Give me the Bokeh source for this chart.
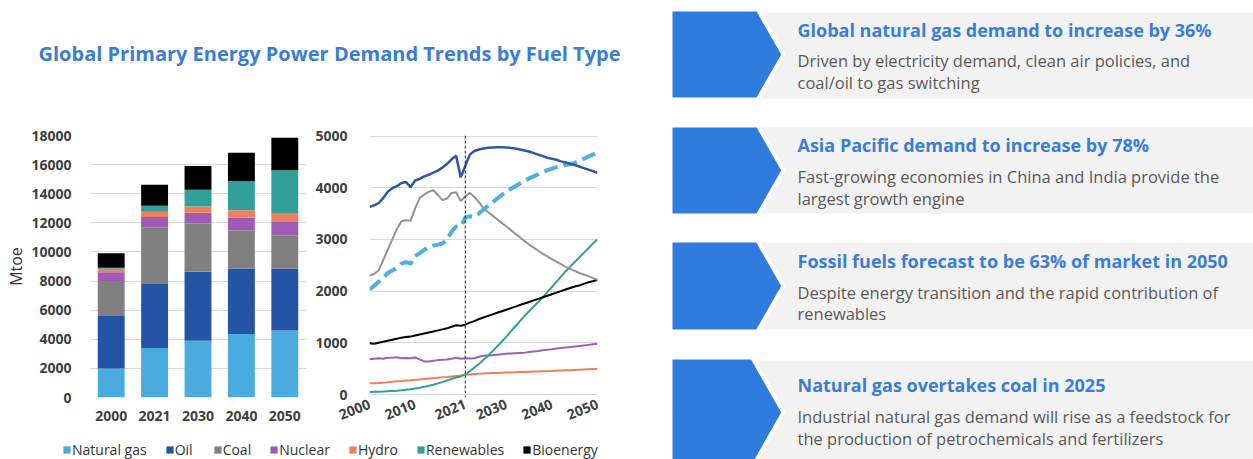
from bokeh.plotting import figure
from bokeh.layouts import row, column
from bokeh.models import (ColumnDataSource, Range1d, FactorRange, FixedTicker, Span,
                          Legend, LegendItem)
from bokeh.core.properties import value
from bokeh.embed import file_html
from bokeh.resources import INLINE

# ---------------- data ----------------
TITLE = "Global Primary Energy Power Demand Trends by Fuel Type"
FUELS = ["Natural gas", "Oil", "Coal", "Nuclear", "Hydro", "Renewables", "Bioenergy"]
BAR_YEARS = ["2000", "2021", "2030", "2040", "2050"]
natural_gas_bar = [2000, 3400, 3900, 4370, 4600]
oil_bar = [3600, 4400, 4750, 4490, 4260]
coal_bar = [2400, 3900, 3300, 2630, 2280]
nuclear_bar = [600, 700, 750, 870, 920]
hydro_bar = [250, 370, 430, 500, 570]
renewables_bar = [60, 400, 1150, 1990, 2980]
bioenergy_bar = [1000, 1450, 1620, 1970, 2240]
BAR_TICKS = [0, 2000, 4000, 6000, 8000, 10000, 12000, 14000, 16000, 18000]

years = list(range(2000, 2051))
oil_line = [3630, 3660, 3700, 3800, 3920, 3990, 4030, 4090, 4110, 4010,
            4140, 4170, 4220, 4250, 4290, 4330, 4390, 4460, 4550, 4620,
            4200, 4420, 4640, 4710, 4740, 4760, 4775, 4780, 4785, 4785,
            4780, 4770, 4760, 4740, 4720, 4700, 4670, 4640, 4610, 4580,
            4560, 4540, 4510, 4490, 4460, 4440, 4410, 4380, 4350, 4320, 4290]
gas_line = [2030, 2100, 2180, 2260, 2350, 2400, 2450, 2530, 2560, 2530,
            2680, 2730, 2800, 2850, 2880, 2900, 2920, 3000, 3150, 3250,
            3250, 3420, 3450, 3440, 3500, 3580, 3650, 3720, 3790, 3860,
            3920, 3980, 4030, 4080, 4130, 4180, 4220, 4260, 4300, 4340,
            4370, 4400, 4420, 4440, 4460, 4480, 4520, 4560, 4600, 4640, 4680]
coal_line = [2300, 2330, 2400, 2600, 2800, 3000, 3200, 3350, 3370, 3360,
             3600, 3800, 3870, 3920, 3950, 3860, 3760, 3790, 3900, 3910,
             3740, 3830, 3900, 3820, 3720, 3600, 3530, 3460, 3390, 3320,
             3250, 3180, 3110, 3040, 2970, 2900, 2840, 2780, 2720, 2670,
             2620, 2570, 2520, 2470, 2430, 2390, 2350, 2320, 2290, 2250, 2220]
bio_line = [990, 980, 1000, 1020, 1040, 1060, 1080, 1100, 1110, 1120,
            1140, 1160, 1180, 1200, 1220, 1240, 1260, 1280, 1310, 1340,
            1330, 1350, 1390, 1420, 1460, 1490, 1520, 1550, 1580, 1610,
            1640, 1670, 1700, 1730, 1760, 1790, 1820, 1850, 1880, 1910,
            1940, 1970, 2000, 2030, 2060, 2090, 2110, 2140, 2170, 2190, 2220]
ren_line = [50, 52, 55, 58, 62, 68, 74, 82, 92, 102,
            115, 130, 148, 168, 190, 215, 240, 270, 300, 330,
            350, 390, 450, 520, 590, 670, 750, 840, 930, 1020,
            1120, 1220, 1320, 1420, 1520, 1610, 1700, 1790, 1880, 1980,
            2080, 2180, 2280, 2380, 2470, 2560, 2650, 2740, 2830, 2920, 3000]
nuc_line = [680, 690, 700, 690, 710, 710, 720, 700, 705, 700,
            715, 680, 640, 640, 655, 665, 670, 675, 690, 710,
            690, 700, 695, 700, 730, 750, 755, 760, 770, 780,
            790, 795, 800, 805, 810, 820, 830, 840, 855, 865,
            875, 890, 900, 910, 920, 930, 940, 950, 960, 970, 980]
hydro_line = [220, 220, 222, 225, 235, 245, 255, 262, 270, 275,
              285, 292, 300, 310, 318, 325, 332, 340, 350, 360,
              368, 380, 388, 395, 400, 405, 410, 414, 418, 422,
              425, 428, 431, 434, 437, 440, 443, 446, 449, 452,
              455, 459, 463, 467, 471, 475, 479, 483, 487, 491, 495]
LINE_XTICKS = [2000, 2010, 2021, 2030, 2040, 2050]
LINE_YTICKS = [0, 1000, 2000, 3000, 4000, 5000]
BASE_YEAR = 2021

HEADINGS = ["Global natural gas demand to increase by 36%",
            "Asia Pacific demand to increase by 78%",
            "Fossil fuels forecast to be 63% of market in 2050",
            "Natural gas overtakes coal in 2025"]
BODY1 = ["Driven by electricity demand, clean air policies, and",
         "Fast-growing economies in China and India provide the",
         "Despite energy transition and the rapid contribution of",
         "Industrial natural gas demand will rise as a feedstock for"]
BODY2 = ["coal/oil to gas switching",
         "largest growth engine",
         "renewables",
         "the production of petrochemicals and fertilizers"]

# ---------------- style ----------------
FONT = "Open Sans"
BLUE_TXT = "#3A7DD7"
BAR_COLORS = ["#4AABDF", "#2455A4", "#808080", "#A05CB5", "#EF7E5B", "#30A099", "#000000"]
TICK_COLOR = "#404040"
GRID = "#D9D9D9"


def style_axes(p):
    for ax in p.axis:
        ax.axis_line_color = None
        ax.major_tick_line_color = None
        ax.minor_tick_line_color = None
        ax.major_label_text_font = FONT
        ax.major_label_text_font_style = "bold"
        ax.major_label_text_font_size = "14px"
        ax.major_label_text_color = TICK_COLOR


# ---------------- title ----------------
tf = figure(width=650, height=110, x_range=Range1d(0, 650), y_range=Range1d(110, 0),
            x_axis_type=None, y_axis_type=None, output_backend="svg",
            toolbar_location=None, min_border=0)
tf.outline_line_color = None
tf.grid.visible = False
tf.text(x=[38], y=[53], text=[TITLE], text_font=value(FONT), text_font_style="bold",
        text_font_size="20px", text_color=BLUE_TXT, text_baseline="middle")

# ---------------- stacked bars ----------------
CH_H = 318
TOP_B, BOT_B = 25, 31
bar_src = ColumnDataSource(dict(year=BAR_YEARS,
                                **{FUELS[0]: natural_gas_bar, FUELS[1]: oil_bar,
                                   FUELS[2]: coal_bar, FUELS[3]: nuclear_bar,
                                   FUELS[4]: hydro_bar, FUELS[5]: renewables_bar,
                                   FUELS[6]: bioenergy_bar}))
bf = figure(width=310, height=CH_H, x_range=FactorRange(factors=BAR_YEARS),
            y_range=Range1d(0, 18000), output_backend="svg", toolbar_location=None,
            min_border_left=89, min_border_right=4, min_border_top=TOP_B,
            min_border_bottom=BOT_B)
bf.outline_line_color = None
bf.vbar_stack(FUELS, x="year", width=0.62, source=bar_src,
              fill_color=BAR_COLORS, line_color=None)
bf.yaxis.ticker = FixedTicker(ticks=BAR_TICKS)
bf.xgrid.visible = False
bf.ygrid.grid_line_color = GRID
style_axes(bf)
bf.yaxis.major_label_standoff = 12
bf.xaxis.major_label_standoff = 7
bf.yaxis.axis_label = "Mtoe"
bf.yaxis.axis_label_text_font = FONT
bf.yaxis.axis_label_text_font_style = "normal"
bf.yaxis.axis_label_text_font_size = "16px"
bf.yaxis.axis_label_text_color = "#333333"
bf.yaxis.axis_label_standoff = 1

# ---------------- lines ----------------
lsrc = ColumnDataSource(dict(year=years, oil=oil_line, gas=gas_line, coal=coal_line,
                             bio=bio_line, ren=ren_line, nuc=nuc_line, hydro=hydro_line))
lf = figure(width=340, height=CH_H, x_range=Range1d(2000, 2050), y_range=Range1d(-58, 5010),
            output_backend="svg", toolbar_location=None,
            min_border_left=59, min_border_right=53, min_border_top=TOP_B,
            min_border_bottom=BOT_B)
lf.outline_line_color = None
lf.xaxis.ticker = FixedTicker(ticks=LINE_XTICKS)
lf.yaxis.ticker = FixedTicker(ticks=LINE_YTICKS)
lf.xgrid.visible = False
lf.ygrid.grid_line_color = GRID
style_axes(lf)
lf.yaxis.major_label_standoff = 16
lf.xaxis.major_label_standoff = 0
lf.xaxis.major_label_orientation = 0.38
lf.line("year", "hydro", source=lsrc, color="#F0805A", line_width=2)
lf.line("year", "nuc", source=lsrc, color="#A25DB8", line_width=2)
lf.line("year", "ren", source=lsrc, color="#2BA198", line_width=2)
lf.line("year", "bio", source=lsrc, color="#000000", line_width=2)
lf.line("year", "coal", source=lsrc, color="#939393", line_width=2)
lf.line("year", "gas", source=lsrc, color="#4CB0E4", line_width=4, line_dash="14 6")
lf.line("year", "oil", source=lsrc, color="#2B58A6", line_width=2.5)
lf.add_layout(Span(location=BASE_YEAR, dimension="height", line_color="#222222",
                   line_width=1, line_dash="3 2"))

# ---------------- legend strip ----------------
LG_H = 459 - 110 - CH_H
lg = figure(width=650, height=LG_H, x_range=Range1d(0, 650), y_range=Range1d(0, LG_H),
            x_axis_type=None, y_axis_type=None, output_backend="svg",
            toolbar_location=None, min_border=0)
lg.outline_line_color = None
lg.grid.visible = False
items = []
for name, col in zip(FUELS, BAR_COLORS):
    r = lg.quad(left=[-50], right=[-40], bottom=[-50], top=[-40], fill_color=col, line_color=None)
    items.append(LegendItem(label=name, renderers=[r]))
leg = Legend(items=items, orientation="horizontal", location=(62, 0), spacing=18,
             padding=0, margin=0, glyph_width=9, glyph_height=9, label_standoff=1,
             label_height=16, label_text_font=FONT, label_text_font_size="14px",
             label_text_color="#333333", border_line_color=None, background_fill_alpha=0)
lg.add_layout(leg)

# ---------------- right panels ----------------
rf = figure(width=603, height=459, x_range=Range1d(650, 1253), y_range=Range1d(459, 0),
            x_axis_type=None, y_axis_type=None, output_backend="svg",
            toolbar_location=None, min_border=0)
rf.outline_line_color = None
rf.grid.visible = False
chev_tops = [9, 125, 240, 357]
chev_bots = [99, 215, 331, 467]
gray_tops = [12, 127, 242, 360]
gray_bots = [98, 213, 329, 470]
rf.quad(left=[757] * 4, right=[1253] * 4, top=gray_tops, bottom=gray_bots,
        fill_color="#F2F2F2", line_color=None)
xs, ys = [], []
for t, b in zip(chev_tops, chev_bots):
    m = (t + b) / 2
    sh = 782 - 0.55 * (b - t) / 2
    xs.append([670, sh, 783, sh, 670])
    ys.append([t, t, m, b, b])
rf.patches(xs, ys, fill_color="#2F7BDE", line_color="white", line_width=4)
head_y = [29, 144, 260, 384]
b1_y = [60, 176, 292, 416]
b2_y = [82, 198, 313, 438]
rf.text(x=[797] * 4, y=head_y, text=HEADINGS, text_font=value(FONT), text_font_style="bold",
        text_font_size="18px", text_color=BLUE_TXT, text_baseline="middle")
rf.text(x=[797] * 4, y=b1_y, text=BODY1, text_font=value(FONT),
        text_font_size="16.5px", text_color="#595959", text_baseline="middle")
rf.text(x=[797] * 4, y=b2_y, text=BODY2, text_font=value(FONT),
        text_font_size="16.5px", text_color="#595959", text_baseline="middle")

left = column(tf, row(bf, lf, spacing=0), lg, spacing=0)
page = row(left, rf, spacing=0)

open("out.html", "w").write(file_html(page, INLINE))
